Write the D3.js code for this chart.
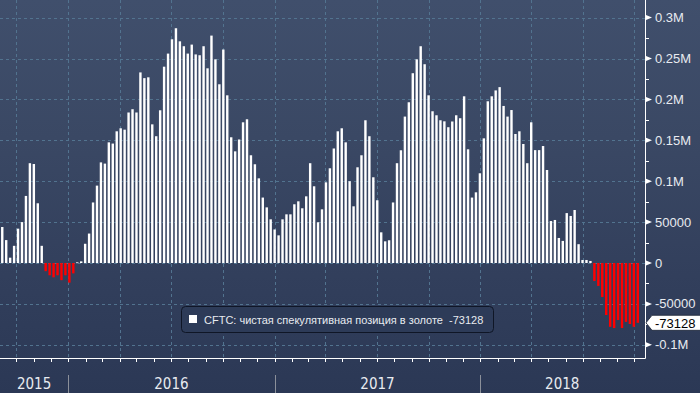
<!DOCTYPE html>
<html>
<head>
<meta charset="utf-8">
<script src="https://cdn.jsdelivr.net/npm/d3@7/dist/d3.min.js"></script>
<style>
html,body{margin:0;padding:0;background:#2c3a57;}
svg{display:block;}
</style>
</head>
<body>
<svg id="chart" width="700" height="393"></svg>
<script>
// ---- data ----
const seriesName = "CFTC: чистая спекулятивная позиция в золоте";
const firstWeek = "2015-09-06";
const netPosition = [
  44000, 28000, 6500, 21000, 42000, 50000, 82000, 122000, 121000, 73000,
  21000, -10000, -15000, -17500, -15000, -21000, -15000, -24000, -12700, 800,
  2000, 23500, 36000, 74000, 94600, 123000, 121500, 147500, 146000, 161000,
  164700, 163000, 184000, 188000, 184000, 233000, 226000, 227000, 169500, 155000,
  186700, 240000, 256000, 273500, 287000, 271000, 265000, 256000, 267000, 255000,
  254000, 265000, 238000, 278000, 249000, 218500, 261000, 205000, 153700, 136500,
  151000, 172000, 175700, 131700, 120700, 103500, 80000, 68000, 53400, 41000,
  33800, 53400, 59500, 59500, 71800, 75400, 66900, 81500, 122000, 93800,
  49800, 65600, 98600, 115800, 140000, 161000, 164700, 147500, 100000, 69300,
  117000, 131700, 174500, 155000, 104800, 76700, 37500, 26500, 27800, 74000,
  122000, 137800, 179000, 196500, 232000, 249000, 265000, 243000, 205000, 185500,
  180600, 174500, 173200, 166000, 173000, 180600, 177000, 203800, 139000, 80000,
  86400, 109700, 152400, 197700, 203800, 211000, 215000, 192000, 179000, 187000,
  157700, 161000, 145500, 122000, 172000, 138000, 138000, 143000, 113700, 51300,
  52600, 30600, 27000, 61000, 57500, 64800, 23000, 3700, 3700, 2500,
  -22000, -28000, -41600, -63600, -78000, -79500, -69700, -79500, -72000, -74600,
  -78000, -73128
];
const lastValueLabel = "-73128";
const yTickValues = [-100000, -50000, 0, 50000, 100000, 150000, 200000, 250000, 300000];
const yTickLabels = ["-0.1M", "-50000", "0", "50000", "0.1M", "0.15M", "0.2M", "0.25M", "0.3M"];
const yearLabels = ["2015", "2016", "2017", "2018"];
const xDomain = ["2015-09-02", "2018-10-18"];

// ---- setup ----
const W = 700, H = 393;
const plotRight = 645, axisBottom = 358;
const parse = d3.utcParse("%Y-%m-%d");
const start = parse(firstWeek);
const data = netPosition.map((v, i) => ({ date: d3.utcDay.offset(start, i * 7), value: v }));

const x = d3.scaleUtc().domain(xDomain.map(parse)).range([0, 644]);
const y = d3.scaleLinear().domain([-100000, 300000]).range([344.8, 17.6]);

const svg = d3.select("#chart");
const defs = svg.append("defs");
const grad = defs.append("linearGradient").attr("id", "bg").attr("x1", 0).attr("y1", 0).attr("x2", 0).attr("y2", 1);
[[0, "#404f6c"], [0.35, "#3a4864"], [0.7, "#323f5c"], [1, "#2b3855"]].forEach(([o, c]) =>
  grad.append("stop").attr("offset", o).attr("stop-color", c));
svg.append("rect").attr("width", W).attr("height", H).attr("fill", "url(#bg)");

// grid
const gridColor = "#52738f";
const quarters = d3.utcMonth.every(3).range(x.domain()[0], x.domain()[1]);
svg.append("g").selectAll("line").data(quarters).join("line")
  .attr("x1", d => Math.round(x(d)) + 0.5).attr("x2", d => Math.round(x(d)) + 0.5)
  .attr("y1", 0).attr("y2", axisBottom)
  .attr("stroke", gridColor).attr("stroke-width", 1).attr("stroke-dasharray", "3,3");
svg.append("g").selectAll("line").data(yTickValues).join("line")
  .attr("x1", 0).attr("x2", plotRight)
  .attr("y1", d => Math.round(y(d)) + 0.5).attr("y2", d => Math.round(y(d)) + 0.5)
  .attr("stroke", gridColor).attr("stroke-width", 1).attr("stroke-dasharray", "3,3");

// bars
const bw = 2.4;
svg.append("g").selectAll("rect").data(data).join("rect")
  .attr("x", d => x(d.date) - bw / 2)
  .attr("width", bw)
  .attr("y", d => d.value >= 0 ? y(d.value) : y(0))
  .attr("height", d => Math.max(0.8, Math.abs(y(d.value) - y(0))))
  .attr("fill", d => d.value >= 0 ? "#ffffff" : "#ff0000");

// right axis
const axisColor = "#ffffff";
svg.append("line").attr("x1", plotRight + 0.5).attr("x2", plotRight + 0.5).attr("y1", 0).attr("y2", axisBottom + 0.5)
  .attr("stroke", axisColor).attr("stroke-width", 1);
const minor = d3.range(-75000, 300000, 50000);
svg.append("g").selectAll("line").data(minor).join("line")
  .attr("x1", plotRight).attr("x2", plotRight + 4)
  .attr("y1", d => Math.round(y(d)) + 0.5).attr("y2", d => Math.round(y(d)) + 0.5)
  .attr("stroke", axisColor);
const yt = svg.append("g").selectAll("g").data(yTickValues).join("g")
  .attr("transform", d => `translate(${plotRight},${y(d)})`);
yt.append("path").attr("d", "M1,-2.5L7,0L1,2.5Z").attr("fill", axisColor);
yt.append("text").attr("x", 10).attr("dy", "0.35em")
  .attr("font-family", "'Liberation Sans', Arial, sans-serif").attr("font-size", 13)
  .attr("fill", "#e8ebf0")
  .text((d, i) => yTickLabels[i]);

// last value callout
const lv = netPosition[netPosition.length - 1];
const ly = y(lv);
const cg = svg.append("g").attr("transform", `translate(0,${ly})`);
cg.append("path").attr("d", `M646,0L652,-7.5L701,-7.5L701,7.5L652,7.5Z`)
  .attr("fill", "#ffffff").attr("stroke", "#1c2436").attr("stroke-width", 0.8);
cg.append("text").attr("x", 655).attr("dy", "0.36em")
  .attr("font-family", "'Liberation Sans', Arial, sans-serif").attr("font-size", 13)
  .attr("fill", "#000").text(lastValueLabel);

// bottom axis
svg.append("line").attr("x1", 0).attr("x2", plotRight + 0.5).attr("y1", axisBottom + 0.5).attr("y2", axisBottom + 0.5)
  .attr("stroke", axisColor);
const months = d3.utcMonth.range(x.domain()[0], x.domain()[1]);
svg.append("g").selectAll("line").data(months).join("line")
  .attr("x1", d => Math.round(x(d)) + 0.5).attr("x2", d => Math.round(x(d)) + 0.5)
  .attr("y1", axisBottom).attr("y2", axisBottom + 4)
  .attr("stroke", axisColor);
const yearStarts = d3.utcYear.range(x.domain()[0], x.domain()[1]);
svg.append("g").selectAll("line").data(yearStarts).join("line")
  .attr("x1", d => Math.round(x(d)) + 0.5).attr("x2", d => Math.round(x(d)) + 0.5)
  .attr("y1", 375).attr("y2", H)
  .attr("stroke", "#8b909a").attr("stroke-width", 1);
const yearSpans = yearLabels.map(l => {
  const a = Math.max(x.domain()[0], parse(l + "-01-01"));
  const b = Math.min(x.domain()[1], parse((+l + 1) + "-01-01"));
  return { label: l, cx: (x(a) + x(b)) / 2 };
});
svg.append("g").selectAll("text").data(yearSpans).join("text")
  .attr("x", d => d.cx).attr("y", 389).attr("text-anchor", "middle")
  .attr("font-family", "'Liberation Sans Narrow', 'DejaVu Sans Condensed', 'Liberation Sans', sans-serif")
  .attr("font-size", 15).attr("fill", "#e8ebf0")
  .text(d => d.label);

// legend
const lg = svg.append("g");
lg.append("rect").attr("x", 181.5).attr("y", 306.5).attr("width", 312).attr("height", 26).attr("rx", 4)
  .attr("fill", "#2d3b58").attr("stroke", "#0f1626").attr("stroke-width", 1);
lg.append("rect").attr("x", 189).attr("y", 315).attr("width", 8).attr("height", 8).attr("fill", "#ffffff");
lg.append("text").attr("x", 204).attr("y", 324)
  .attr("font-family", "'Liberation Sans', Arial, sans-serif").attr("font-size", 11)
  .attr("fill", "#e8ebf0").attr("xml:space", "preserve")
  .text(seriesName + "  " + lastValueLabel);
</script>
</body>
</html>
